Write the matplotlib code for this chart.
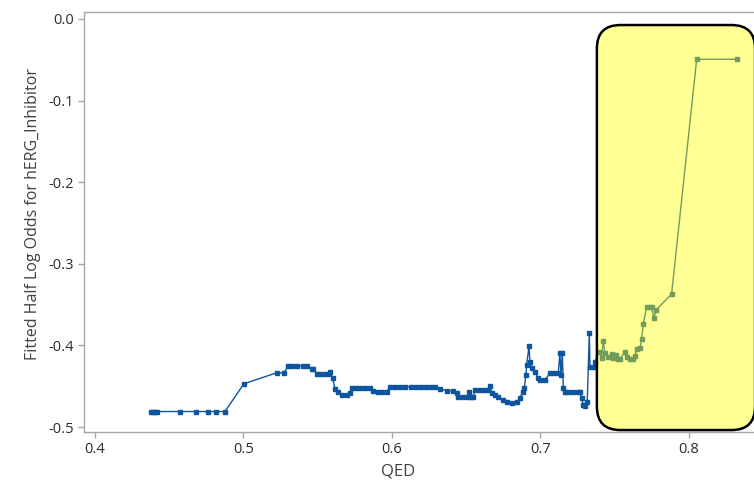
import matplotlib
matplotlib.use("Agg")
import matplotlib.pyplot as plt
from matplotlib.patches import FancyBboxPatch

plt.rcParams['font.family'] = ['Open Sans', 'DejaVu Sans']

# fitted half log odds vs QED
qed = [0.4377, 0.4391, 0.4404, 0.4418, 0.4572, 0.4680, 0.4761, 0.4815, 0.4875,
       0.5003, 0.5224, 0.5273, 0.5302, 0.5327, 0.5358, 0.5401, 0.5426, 0.5459,
       0.5468, 0.5495, 0.5515, 0.5542, 0.5569, 0.5582, 0.5601, 0.5616, 0.5638,
       0.5661, 0.5695, 0.5717, 0.5729, 0.5758, 0.5785, 0.5818, 0.5852, 0.5874,
       0.5908, 0.5933, 0.5964, 0.5987, 0.6020, 0.6055, 0.6090, 0.6125, 0.6160,
       0.6195, 0.6230, 0.6260, 0.6290, 0.6323, 0.6368, 0.6413, 0.6436, 0.6447,
       0.6480, 0.6510, 0.6520, 0.6532, 0.6547, 0.6559, 0.6590, 0.6620, 0.6649,
       0.6660, 0.6671, 0.6694, 0.6716, 0.6750, 0.6773, 0.6806, 0.6840, 0.6862,
       0.6880, 0.6891, 0.6902, 0.6907, 0.6923, 0.6929, 0.6941, 0.6963, 0.6985,
       0.6997, 0.7030, 0.7064, 0.7090, 0.7120, 0.7131, 0.7138, 0.7147, 0.7154,
       0.7165, 0.7185, 0.7221, 0.7253, 0.7266, 0.7277, 0.7288, 0.7300, 0.7315,
       0.7329, 0.7333, 0.7360, 0.7367, 0.7396, 0.7412, 0.7423, 0.7434, 0.7457,
       0.7480, 0.7490, 0.7508, 0.7524, 0.7535, 0.7569, 0.7580, 0.7603, 0.7625,
       0.7636, 0.7648, 0.7670, 0.7681, 0.7692, 0.7715, 0.7737, 0.7749, 0.7764,
       0.7778, 0.7883, 0.8052, 0.8321]
log_odds = [-0.481, -0.481, -0.481, -0.481, -0.481, -0.481, -0.481, -0.481, -0.481,
            -0.447, -0.4335, -0.4335, -0.425, -0.425, -0.425, -0.425, -0.425, -0.4286,
            -0.429, -0.435, -0.435, -0.435, -0.435, -0.4326, -0.440, -0.4534, -0.457,
            -0.4608, -0.4608, -0.4583, -0.4526, -0.4526, -0.4526, -0.4526, -0.4526, -0.4555,
            -0.4571, -0.4571, -0.4571, -0.4506, -0.4506, -0.4506, -0.4506, -0.4506, -0.4506,
            -0.4506, -0.4506, -0.4506, -0.4506, -0.4531, -0.4555, -0.4555, -0.4583, -0.4636,
            -0.4636, -0.4636, -0.4567, -0.4636, -0.4636, -0.4547, -0.4547, -0.4547, -0.4547,
            -0.4494, -0.4583, -0.4608, -0.4629, -0.4669, -0.4694, -0.4706, -0.4694, -0.4645,
            -0.4571, -0.4522, -0.4363, -0.4240, -0.4007, -0.4203, -0.4277, -0.4326, -0.4400,
            -0.4424, -0.4424, -0.4338, -0.4338, -0.4338, -0.4093, -0.4363, -0.4090, -0.4522,
            -0.4571, -0.4571, -0.4571, -0.4571, -0.4571, -0.4645, -0.4730, -0.4743, -0.4694,
            -0.3848, -0.4261, -0.4261, -0.4203, -0.4077, -0.4154, -0.3942, -0.4089, -0.4142,
            -0.4105, -0.4154, -0.4118, -0.4163, -0.4167, -0.4077, -0.4142, -0.4170, -0.4167,
            -0.4130, -0.4044, -0.4036, -0.3922, -0.3741, -0.3529, -0.3529, -0.3529, -0.3664,
            -0.3566, -0.3370, -0.0494, -0.0494]

x_ticks = [0.4, 0.5, 0.6, 0.7, 0.8]
y_ticks = [0.0, -0.1, -0.2, -0.3, -0.4, -0.5]

# highlighted high-QED region
hl_x = (0.738, 0.8445)
hl_y = (-0.5037, -0.0074)

fig = plt.figure(figsize=(7.54, 4.87), dpi=100)
ax = fig.add_axes([0.1114, 0.1129, 0.8886, 0.8625])

ax.plot(qed, log_odds, color='#0d559e', lw=1, marker='s', ms=2.8, mec='#0d559e')

box = FancyBboxPatch((hl_x[0], hl_y[0]), hl_x[1] - hl_x[0], hl_y[1] - hl_y[0],
                     boxstyle='round,pad=0,rounding_size=0.0158', mutation_aspect=1.82,
                     facecolor=(1.0, 1.0, 0.0, 0.42), edgecolor='black', lw=1.8,
                     zorder=5, clip_on=False)
ax.add_patch(box)

ax.set_xlim(0.3926, 0.8438)
ax.set_ylim(-0.5061, 0.0086)
ax.set_xticks(x_ticks)
ax.set_xticklabels([f'{t:.1f}' for t in x_ticks])
ax.set_yticks(y_ticks)
ax.set_yticklabels(['0.0' if t == 0 else f'{t:.1f}' for t in y_ticks])

for s in ['left', 'bottom', 'top']:
    ax.spines[s].set_color('#a6a6a6')
    ax.spines[s].set_linewidth(1)
ax.spines['right'].set_visible(False)
ax.tick_params(colors='#a6a6a6', labelcolor='#2b2b2b', labelsize=10.5, length=4, width=1)

ax.set_xlabel('QED', fontsize=12, color='#404040')
ax.set_ylabel('Fitted Half Log Odds for hERG_Inhibitor', fontsize=11.5, color='#404040')
ax.xaxis.set_label_coords(0.469, -0.075)
ax.yaxis.set_label_coords(-0.064, 0.52)

fig.savefig('out.png', dpi=100)
